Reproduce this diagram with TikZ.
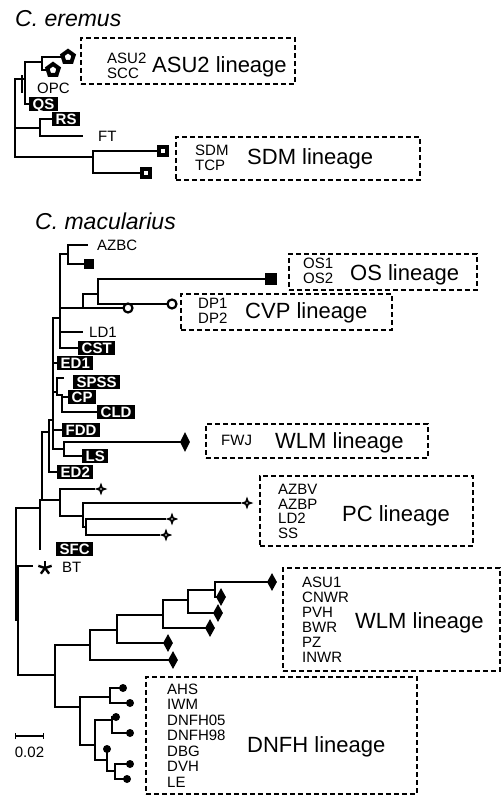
\documentclass[tikz,border=0pt]{standalone}
\usepackage{fontspec}
\setmainfont{Liberation Sans}
\usepackage{tikz}
\usetikzlibrary{arrows.meta,positioning,shapes.geometric}

\newcommand{\taxafont}{\fontsize{15}{15}\selectfont}
\newcommand{\linfont}{\fontsize{22}{24}\selectfont}
\newcommand{\ttlfont}{\fontsize{23}{26}\selectfont\itshape}

\begin{document}
\begin{tikzpicture}[x=1pt, y=-1pt,
  branch/.style={line width=1.8pt, line cap=rect},
  pop/.style={fill=black, text=white, font=\taxafont\bfseries, inner xsep=3.5pt,
    inner ysep=1.6pt, text height=10.8pt, text depth=0pt, anchor=west},
  taxon/.style={font=\taxafont, inner sep=0pt, anchor=west},
  poplist/.style={font=\taxafont, align=left, inner sep=0pt, anchor=west},
  lineage/.style={font=\linfont, inner sep=0pt, anchor=base west},
  ttl/.style={font=\ttlfont, inner sep=0pt, anchor=base west},
  lbox/.style={draw, line width=1.5pt, dash pattern=on 5pt off 3pt,
    anchor=north west, inner sep=0pt},
  diam/.style={diamond, fill=black, minimum width=10pt, minimum height=18pt, inner sep=0pt},
  pent/.style={regular polygon, regular polygon sides=5, draw, fill=white,
    line width=4pt, minimum size=12pt, inner sep=0pt},
  osq/.style={rectangle, draw, fill=white, line width=3.8pt, minimum size=7.5pt, inner sep=0pt},
  fsq/.style={rectangle, fill=black, minimum size=10pt, inner sep=0pt},
  ocirc/.style={circle, draw, fill=white, line width=2.2pt, minimum size=9pt, inner sep=0pt},
  tipdot/.style={circle, fill=black, minimum size=8pt, inner sep=0pt},
  spark/.style={circle, minimum size=13pt, inner sep=0pt,
    path picture={
      \fill[black] (path picture bounding box.center) +(0pt,6.4pt) -- +(1.7pt,1.7pt)
        -- +(6.4pt,0pt) -- +(1.7pt,-1.7pt) -- +(0pt,-6.4pt) -- +(-1.7pt,-1.7pt)
        -- +(-6.4pt,0pt) -- +(-1.7pt,1.7pt) -- cycle;
      \fill[white] (path picture bounding box.center) circle (0.9pt);}},
  astx/.style={circle, minimum size=15pt, inner sep=0pt,
    path picture={\foreach \a in {90,162,234,306,18}
      \draw[line width=2.4pt] (path picture bounding box.center) -- ++(\a:7pt);}},
]
  \useasboundingbox (0,0) rectangle (502,796);

  % --- C. eremus -----------------------------------------------------
  \node[ttl] (ttlE) at (15,26) {C. eremus};

  \node[lbox, minimum width=214pt, minimum height=46pt] (asubox) at (80,37) {};
  \node[poplist] (asulist) at (107,65.5) {ASU2\\SCC};
  \node[lineage] (asulin) at (152,72) {ASU2 lineage};

  \node[lbox, minimum width=244pt, minimum height=43pt] (sdmbox) at (175,136) {};
  \node[poplist] (sdmlist) at (195,157.5) {SDM\\TCP};
  \node[lineage] (sdmlin) at (247,164) {SDM lineage};

  \node[pent] (pt1) at (68,57) {};
  \node[pent] (pt2) at (53,70) {};
  \node[taxon] (opc) at (37,88) {OPC};
  \node[pop] (qs) at (29,104) {QS};
  \node[pop] (rs) at (52,119) {RS};
  \coordinate (ftend) at (82,136);
  \node[taxon, right=16pt of ftend] (ft) {FT};
  \node[osq] (sq1) at (163,151) {};
  \node[osq] (sq2) at (146,173) {};

  \coordinate (eroot) at (15,118);
  \coordinate (eA) at (25,79);
  \coordinate (ePent) at (42,62);
  \coordinate (eRS) at (40,128);
  \coordinate (eSDM) at (93,157);
  \coordinate (eTickA) at (22,76);
  \coordinate (eTickB) at (22,92);

  \draw[branch] (eroot) |- (eA) (eroot) |- (eRS) (eroot) |- (eSDM)
    (eA) |- (ePent) (eA) |- (qs)
    (ePent) |- (pt1) (ePent) |- (pt2)
    (eRS) |- (rs) (eRS) |- (ftend)
    (eSDM) |- (sq1) (eSDM) |- (sq2);
  \draw[branch] (eTickA) -- (eTickB);

  % --- C. macularius: boxes -------------------------------------------
  \node[ttl] (ttlM) at (35,229.5) {C. macularius};

  \node[lbox, minimum width=188pt, minimum height=36pt] (osbox) at (288,253) {};
  \node[poplist] (oslist) at (303,271) {OS1\\OS2};
  \node[lineage] (oslin) at (350,280) {OS lineage};

  \node[lbox, minimum width=211pt, minimum height=36pt] (cvpbox) at (180,293) {};
  \node[poplist] (cvplist) at (198,311) {DP1\\DP2};
  \node[lineage] (cvplin) at (245,318) {CVP lineage};

  \node[lbox, minimum width=222pt, minimum height=34pt] (fwjbox) at (205,423) {};
  \node[taxon] (fwjlist) at (221,440) {FWJ};
  \node[lineage] (fwjlin) at (275,448) {WLM lineage};

  \node[lbox, minimum width=213pt, minimum height=70pt] (pcbox) at (259,475) {};
  \node[poplist, font={\fontsize{15}{14.4}\selectfont}] (pclist) at (278,511.5)
    {AZBV\\AZBP\\LD2\\SS};
  \node[lineage] (pclin) at (342,521) {PC lineage};

  \node[lbox, minimum width=217pt, minimum height=103pt] (wlmbox) at (282,567) {};
  \node[poplist] (wlmlist) at (302,619.5) {ASU1\\CNWR\\PVH\\BWR\\PZ\\INWR};
  \node[lineage] (wlmlin) at (355,628) {WLM lineage};

  \node[lbox, minimum width=271pt, minimum height=117pt] (dnfhbox) at (145,676) {};
  \node[poplist, font={\fontsize{15}{15.5}\selectfont}] (dnfhlist) at (167,735.5)
    {AHS\\IWM\\DNFH05\\DNFH98\\DBG\\DVH\\LE};
  \node[lineage] (dnfhlin) at (247,752) {DNFH lineage};

  % --- C. macularius: tips --------------------------------------------
  \coordinate (azend) at (87,245);
  \node[taxon, right=10pt of azend] (azbc) {AZBC};
  \node[fsq] (azsq) at (89,264) {};
  \node[fsq, minimum size=12pt] (ossq) at (271,279) {};
  \node[ocirc] (dpc) at (172,304) {};
  \node[ocirc] (cvc) at (128,308) {};
  \coordinate (ldend) at (82,332);
  \node[taxon, right=7pt of ldend] (ld1) {LD1};
  \node[pop] (cst) at (78,348) {CST};
  \node[pop] (ed1) at (57,363) {ED1};
  \coordinate (spend) at (63,378);
  \node[pop] (spss) at (73,382) {SPSS};
  \node[pop] (cp) at (68,397) {CP};
  \node[pop] (cld) at (97,412) {CLD};
  \node[pop] (fdd) at (62,430) {FDD};
  \node[diam, minimum height=20pt] (fwjd) at (185,442) {};
  \node[pop] (ls) at (82,456) {LS};
  \node[pop] (ed2) at (57,472) {ED2};
  \node[spark] (st1) at (101,489) {};
  \node[spark] (st2) at (247,503) {};
  \node[spark] (st3) at (172,519) {};
  \node[spark] (st4) at (166,535) {};
  \node[pop] (sfc) at (56,549) {SFC};
  \coordinate (sfcend) at (40,549);
  \coordinate (btend) at (32,566);
  \node[astx] (btstar) at (45,568) {};
  \node[taxon] (bt) at (62,567) {BT};

  \node[diam] (wd1) at (272,582) {};
  \node[diam] (wd2) at (221,597) {};
  \node[diam] (wd3) at (218,613) {};
  \node[diam] (wd4) at (210,628) {};
  \node[diam] (wd5) at (168,643) {};
  \node[diam] (wd6) at (173,660) {};

  \node[tipdot] (dt1) at (123,688) {};
  \node[tipdot] (dt2) at (130,703) {};
  \node[tipdot] (dt3) at (116,717) {};
  \node[tipdot] (dt4) at (130,733) {};
  \node[tipdot] (dt5) at (107,749) {};
  \node[tipdot] (dt6) at (130,764) {};
  \node[tipdot] (dt7) at (127,779) {};

  % --- C. macularius: inner nodes -------------------------------------
  \coordinate (mAZ) at (68,254);
  \coordinate (mDP) at (98,294);
  \coordinate (mOC) at (83,308);
  \coordinate (mU) at (60,318);
  \coordinate (mSC) at (57,392);
  \coordinate (mCP) at (62,395);
  \coordinate (mFL) at (64,449);
  \coordinate (mB) at (53,420);
  \coordinate (mB2) at (49,432);
  \coordinate (mPC) at (60,500);
  \coordinate (mPC2) at (83,516);
  \coordinate (mPC3) at (86,527);
  \coordinate (mB3) at (42,500);
  \coordinate (mB4) at (40,508);
  \coordinate (mRoot) at (16,590);
  \coordinate (mR2) at (18,620);
  \coordinate (mLow) at (55,675);
  \coordinate (mW1) at (90,645);
  \coordinate (mW2) at (117,630);
  \coordinate (mW3) at (163,615);
  \coordinate (mW4) at (188,600);
  \coordinate (mW5) at (215,590);
  \coordinate (mD1) at (80,707);
  \coordinate (mD2) at (110,697);
  \coordinate (mD3) at (95,745);
  \coordinate (mD4) at (112,720);
  \coordinate (mD5) at (107,760);
  \coordinate (mD6) at (115,771);

  % --- C. macularius: branches ----------------------------------------
  \draw[branch] (mAZ) |- (azend) (mAZ) |- (azsq)
    (mDP) |- (ossq) (mDP) |- (dpc)
    (mOC) |- (mDP) (mOC) |- (cvc)
    (mU) |- (mAZ) (mU) |- (mOC) (mU) |- (ldend) (mU) |- (cst)
    (mSC) |- (spend) (mSC) |- (mCP)
    (mCP) |- (cp) (mCP) |- (cld)
    (mFL) |- (fwjd) (mFL) |- (ls)
    (mB) |- (mU) (mB) |- (ed1) (mB) |- (mSC) (mB) |- (fdd) (mB) |- (mFL)
    (mB2) |- (mB) (mB2) |- (ed2)
    (mPC3) |- (st3) (mPC3) |- (st4)
    (mPC2) |- (st2) (mPC2) |- (mPC3)
    (mPC) |- (st1) (mPC) |- (mPC2)
    (mB3) |- (mB2) (mB3) |- (mPC)
    (mB4) |- (mB3) (mB4) -- (sfcend)
    (mRoot) |- (mB4) (mRoot) |- (mR2)
    (mR2) |- (btend) (mR2) |- (mLow);
  \draw[branch] (mLow) |- (mW1) (mLow) |- (mD1)
    (mW1) |- (mW2) (mW1) |- (wd6)
    (mW2) |- (mW3) (mW2) |- (wd5)
    (mW3) |- (mW4) (mW3) |- (wd4)
    (mW4) |- (mW5) (mW4) |- (wd3)
    (mW5) |- (wd1) (mW5) |- (wd2)
    (mD1) |- (mD2) (mD1) |- (mD3)
    (mD2) |- (dt1) (mD2) |- (dt2)
    (mD3) |- (mD4) (mD3) |- (mD5)
    (mD4) |- (dt3) (mD4) |- (dt4)
    (mD5) -- (dt5) (mD5) |- (mD6)
    (mD6) |- (dt6) (mD6) |- (dt7);

  % --- scale bar ------------------------------------------------------
  \coordinate (sbL) at (15,736);
  \coordinate (sbR) at (44,736);
  \draw[line width=1.4pt, {Bar[width=6pt]}-{Bar[width=6pt]}] (sbL) -- (sbR);
  \node[taxon, anchor=center] (sblab) at (29.5,752) {0.02};
\end{tikzpicture}
\end{document}
